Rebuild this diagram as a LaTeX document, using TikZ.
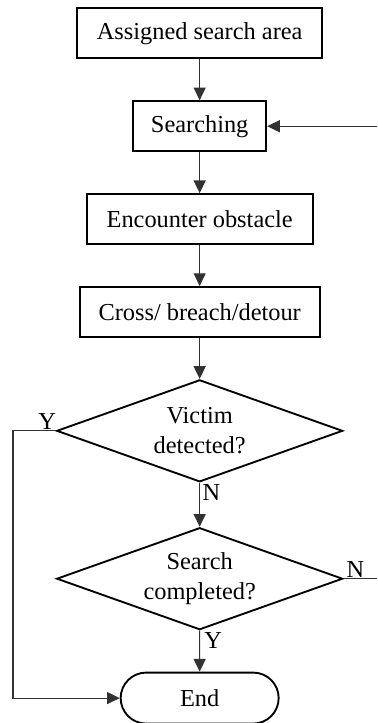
\documentclass[tikz,border=0pt]{standalone}
\usepackage{fontspec}
\setmainfont{Liberation Serif}
\usepackage{tikz}
\usetikzlibrary{positioning,arrows.meta,shapes.geometric,shapes.misc}
\definecolor{flowline}{RGB}{50,50,50}
\tikzset{
  proc/.style={rectangle, draw=black, line width=1.6pt, minimum height=1.5cm,
               inner sep=0pt, font=\fontsize{20.8}{25.5}\selectfont},
  decision/.style={diamond, draw=black, line width=1.6pt, aspect=2.8, inner sep=0pt,
                   minimum width=8.58cm, minimum height=3.06cm, align=center,
                   font=\fontsize{20.8}{25.5}\selectfont},
  term/.style={rounded rectangle, draw=black, line width=1.6pt, minimum width=4.74cm,
               minimum height=1.53cm, inner sep=0pt, font=\fontsize{20.8}{25.5}\selectfont},
  edge/.style={-{Triangle[length=3.8mm, width=3.6mm]}, line width=0.9pt, flowline},
  wire/.style={line width=0.9pt, flowline},
  lbl/.style={font=\fontsize{20.8}{24}\selectfont, inner sep=1pt}
}

\begin{document}
\begin{tikzpicture}
\useasboundingbox (0,0) rectangle (11.31,-21.69);
% right border and left return line
\coordinate (rim) at (11.31,0);
\coordinate (yrail) at (0.39,0);

\node (assign) [proc, minimum width=7.35cm] at (5.99,-1.0) {Assigned search area};
\node (searching) [proc, minimum width=3.99cm, below=1.23cm of assign] {Searching};
\node (encounter) [proc, minimum width=6.78cm, below=1.23cm of searching] {Encounter obstacle};
\node (cross) [proc, minimum width=7.2cm, below=1.23cm of encounter] {Cross/ breach/detour};
\node (victim) [decision, below=1.23cm of cross] {Victim\\detected?};
\node (complete) [decision, below=1.32cm of victim] {Search\\completed?};
\node (finish) [term, below=1.23cm of complete] {End};

\draw[edge] (assign) -- (searching);
\draw[edge] (searching) -- (encounter);
\draw[edge] (encounter) -- (cross);
\draw[edge] (cross) -- (victim);
\draw[edge] (victim) -- (complete);
\draw[edge] (complete) -- (finish);
\draw[edge] (searching -| rim) -- (searching.east);
\draw[wire] (complete.east) -- (complete.east -| rim);
\draw[edge] (victim.west) -- (victim.west -| yrail) |- (finish.west);

\node (yvictim) [lbl, anchor=south east] at ([xshift=0.05cm]victim.west) {Y};
\node (nvictim) [lbl, anchor=north west] at ([xshift=0.05cm]victim.south) {N};
\node (ncomplete) [lbl, anchor=south west] at ([xshift=0.05cm]complete.east) {N};
\node (ycomplete) [lbl, anchor=north west] at ([xshift=0.1cm]complete.south) {Y};
\end{tikzpicture}
\end{document}
